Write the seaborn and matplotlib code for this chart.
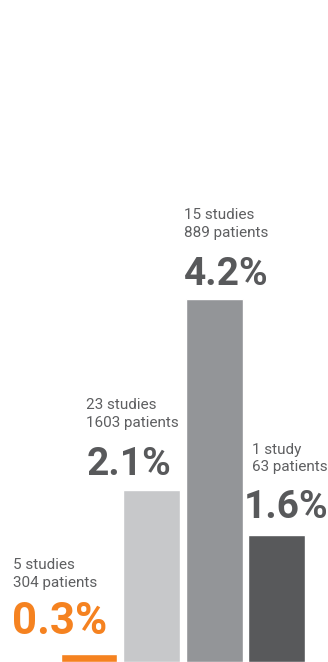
import matplotlib
matplotlib.use("Agg")
import matplotlib.pyplot as plt
import seaborn as sns
import pandas as pd

# ---- data ----
categories = ["A", "B", "C", "D"]
bar_heights = [0.09, 1.99, 4.2, 1.47]          # bar lengths as drawn
percent_labels = ["0.3%", "2.1%", "4.2%", "1.6%"]
studies_labels = ["5 studies", "23 studies", "15 studies", "1 study"]
patients_labels = ["304 patients", "1603 patients", "889 patients", "63 patients"]
bar_colors = ["#F58220", "#C7C8CA", "#939598", "#58595B"]
pct_colors = ["#F58220", "#58595B", "#58595B", "#58595B"]

# ---- layout (pixel offsets from bar top centre) ----
small_dx = [-76, -66, -30, -25]
big_dx = [-77, -65, -30, -33]
line1_dy = [85, 81, 80, 81]
line2_dy = [67, 63, 62, 64]
big_dy = [20, 15, 14, 17]
big_size = [31.5, 28, 28, 28]

sns.set_theme(style="white")
plt.rcParams["font.family"] = ["Roboto", "DejaVu Sans"]

W, H, DPI = 328, 662, 100
fig = plt.figure(figsize=(W / DPI, H / DPI), dpi=DPI)
ax = fig.add_axes([0, 0, 1, 1])

df = pd.DataFrame({"cat": categories, "h": bar_heights})
sns.barplot(data=df, x="cat", y="h", hue="cat", palette=bar_colors,
            width=0.91, legend=False, ax=ax, saturation=1)

px_per_x = 62.6
ax.set_xlim(-89 / px_per_x, (W - 89) / px_per_x)
ax.set_ylim(0, 662 / 86.43)
ax.axis("off")

pt = 72 / DPI
for i in range(len(categories)):
    h = bar_heights[i]
    ax.annotate(studies_labels[i], xy=(i, h), xytext=(small_dx[i] * pt, line1_dy[i] * pt),
                textcoords="offset points", ha="left", va="baseline",
                fontsize=11, color="#5E5F61")
    ax.annotate(patients_labels[i], xy=(i, h), xytext=(small_dx[i] * pt, line2_dy[i] * pt),
                textcoords="offset points", ha="left", va="baseline",
                fontsize=11, color="#5E5F61")
    ax.annotate(percent_labels[i], xy=(i, h), xytext=(big_dx[i] * pt, big_dy[i] * pt),
                textcoords="offset points", ha="left", va="baseline",
                fontsize=big_size[i], fontweight="bold", color=pct_colors[i],
                annotation_clip=False)

fig.savefig("out.png", dpi=DPI)
